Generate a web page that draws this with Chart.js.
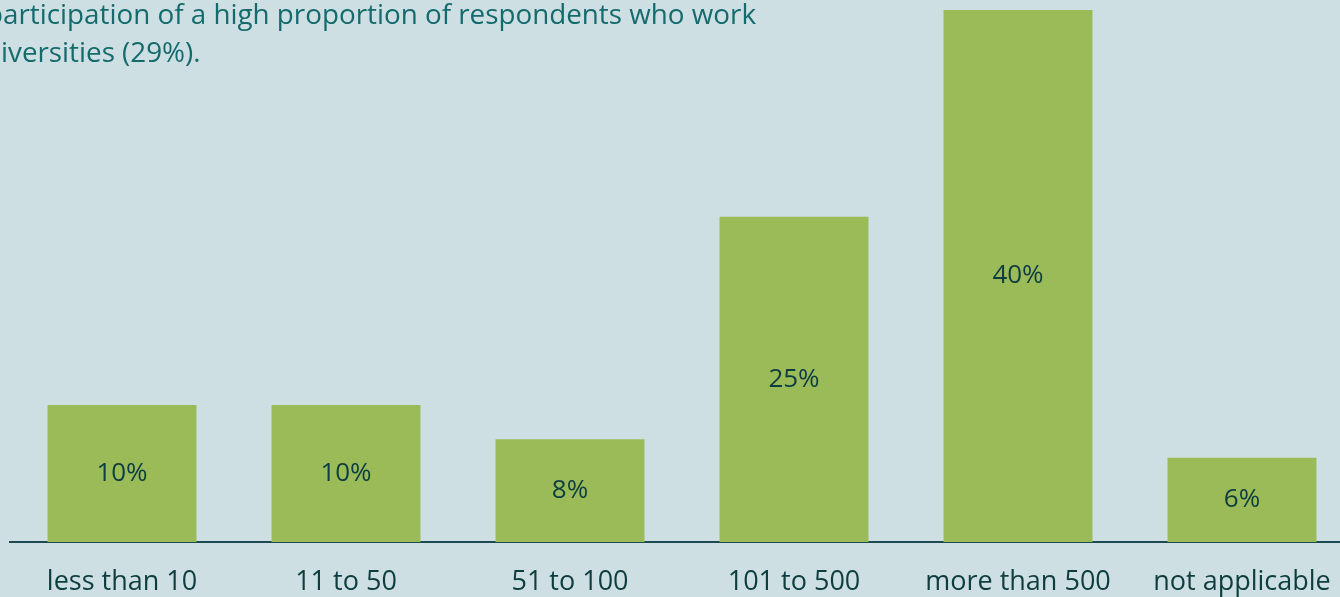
<!DOCTYPE html>
<html>
<head>
<meta charset="utf-8">
<script src="https://cdn.jsdelivr.net/npm/chart.js@4/dist/chart.umd.min.js"></script>
<style>
  html, body { margin: 0; padding: 0; background: #cddfe2; overflow: hidden; }
  #wrap { position: relative; width: 1340px; height: 597px; overflow: hidden; }
  #box { position: absolute; left: 0; top: 0; width: 1360px; height: 627px; }
  .note { position: absolute; white-space: nowrap; font-family: 'Open Sans', sans-serif; font-size: 27.8px; color: #156a6d; line-height: 1; }
</style>
</head>
<body>
<div id="wrap">
  <div id="box"><canvas id="myChart"></canvas></div>
  <div class="note" id="line1">participation of a high proportion of respondents who work</div>
  <div class="note" id="line2">universities (29%).</div>
</div>
<script>
/* categories and values */
const categories = ['less than 10', '11 to 50', '51 to 100', '101 to 500', 'more than 500', 'not applicable'];
const shares = [10.4, 10.4, 7.8, 24.7, 40.4, 6.4];

const textColor = '#0e3d40';

/* left edge of the note is cut off, as in the slide */
const line1 = document.querySelector('#line1');
const line2 = document.querySelector('#line2');
line1.style.left = '-14px';
line1.style.top = '0px';
line2.style.top = '38px';
const range = document.createRange();
range.setStart(line2.firstChild, 0);
range.setEnd(line2.firstChild, 2);
line2.style.left = (1 - range.getBoundingClientRect().width) + 'px';

/* percent label in the middle of each bar */
const barLabels = {
  id: 'barLabels',
  afterDatasetsDraw(chart) {
    const ctx = chart.ctx;
    const meta = chart.getDatasetMeta(0);
    ctx.save();
    ctx.font = '26px "Open Sans"';
    ctx.fillStyle = textColor;
    ctx.textAlign = 'center';
    ctx.textBaseline = 'middle';
    meta.data.forEach((bar, i) => {
      ctx.fillText(Math.round(shares[i]) + '%', bar.x, (bar.y + bar.base) / 2);
    });
    ctx.restore();
  },
};

new Chart(document.querySelector('#myChart'), {
  type: 'bar',
  data: {
    labels: categories,
    datasets: [
      {
        data: shares,
        backgroundColor: '#9bbb59',
        borderWidth: 0,
        categoryPercentage: 1,
        barPercentage: 0.665,
      },
    ],
  },
  options: {
    responsive: true,
    maintainAspectRatio: false,
    animation: false,
    layout: { padding: { left: 10, right: 6, top: 2, bottom: 4 } },
    plugins: { legend: { display: false }, tooltip: { enabled: false } },
    scales: {
      x: {
        grid: { display: false, drawTicks: false },
        border: { display: true, color: '#1d4a50', width: 2 },
        ticks: {
          color: textColor,
          padding: 27,
          maxRotation: 0,
          font: { size: 27, family: 'Open Sans', lineHeight: 1 },
        },
      },
      y: {
        display: false,
        min: 0,
        max: 41,
      },
    },
  },
  plugins: [barLabels],
});
</script>
</body>
</html>
